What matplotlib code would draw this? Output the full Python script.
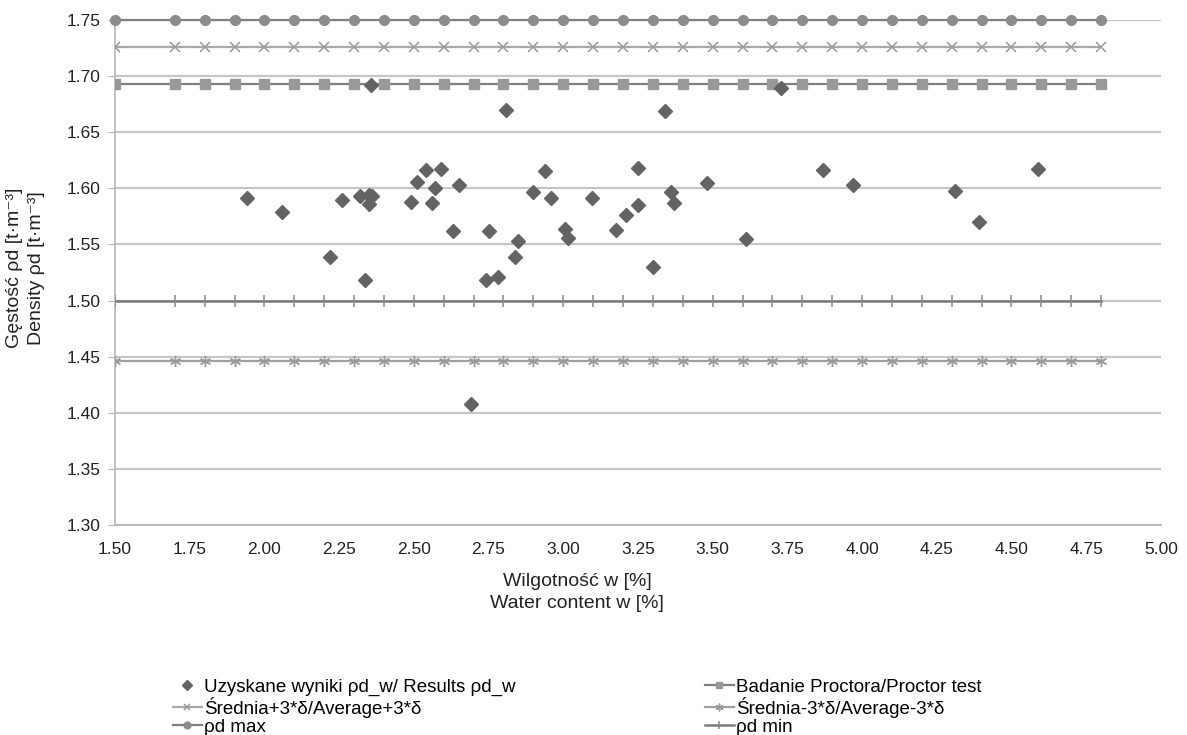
import matplotlib
matplotlib.use("Agg")
import matplotlib.pyplot as plt

plt.rcParams['font.family'] = ['Liberation Sans', 'DejaVu Sans']

# measured points: water content w [%] and dry density [t/m3]
w_results = [1.94, 2.06, 2.22, 2.26, 2.32, 2.335, 2.35, 2.35, 2.36, 2.357,
             2.49, 2.51, 2.54, 2.56, 2.57, 2.59, 2.63, 2.65, 2.69, 2.74,
             2.75, 2.78, 2.81, 2.84, 2.85, 2.90, 2.94, 2.96, 3.005, 3.015,
             3.095, 3.175, 3.21, 3.25, 3.25, 3.30, 3.34, 3.36, 3.37, 3.48,
             3.61, 3.73, 3.87, 3.97, 4.31, 4.39, 4.59]
rho_results = [1.591, 1.579, 1.539, 1.590, 1.593, 1.518, 1.594, 1.586, 1.593, 1.692,
               1.588, 1.606, 1.616, 1.587, 1.600, 1.617, 1.562, 1.603, 1.408, 1.518,
               1.562, 1.521, 1.670, 1.539, 1.553, 1.597, 1.615, 1.591, 1.564, 1.556,
               1.591, 1.563, 1.576, 1.585, 1.618, 1.530, 1.669, 1.597, 1.587, 1.605,
               1.555, 1.689, 1.616, 1.603, 1.598, 1.570, 1.617]

# reference lines
w_lines = [1.5, 1.7, 1.8, 1.9, 2.0, 2.1, 2.2, 2.3, 2.4, 2.5, 2.6, 2.7, 2.8,
           2.9, 3.0, 3.1, 3.2, 3.3, 3.4, 3.5, 3.6, 3.7, 3.8, 3.9, 4.0, 4.1,
           4.2, 4.3, 4.4, 4.5, 4.6, 4.7, 4.8]
rho_max = 1.75
avg_plus = 1.726
proctor = 1.693
rho_min = 1.50
avg_minus = 1.446

TXT = '#222222'

fig = plt.figure(figsize=(11.87, 7.35), dpi=100)
ax = fig.add_axes([0.0969, 0.2857, 0.8811, 0.6871])

n = len(w_lines)
l_max, = ax.plot(w_lines, [rho_max] * n, color='#808080', lw=1.6, marker='o',
                 ms=7, mfc='#8c8c8c', mec='#8c8c8c', clip_on=False, zorder=4,
                 label='ρd max')
l_plus, = ax.plot(w_lines, [avg_plus] * n, color='#a9a9a9', lw=1.6, marker='x',
                  ms=7, mew=1.1, mec='#9a9a9a', zorder=4,
                  label='Średnia+3*δ/Average+3*δ')
l_proc, = ax.plot(w_lines, [proctor] * n, color='#7f7f7f', lw=1.6, marker='s',
                  ms=7, mfc='#999999', mec='#999999', zorder=4,
                  label='Badanie Proctora/Proctor test')
l_min, = ax.plot(w_lines, [rho_min] * n, color='#7a7a7a', lw=1.8, marker='|',
                 ms=9, mew=1.1, mec='#8a8a8a', zorder=4, label='ρd min')
l_minus, = ax.plot(w_lines, [avg_minus] * n, color='#a0a0a0', lw=1.6,
                   marker=(6, 2, 0), ms=8, mew=1.0, mec='#9a9a9a', zorder=4,
                   label='Średnia-3*δ/Average-3*δ')
l_res, = ax.plot(w_results, rho_results, linestyle='none', marker='D', ms=7.5,
                 mfc='#636363', mec='#636363', zorder=5,
                 label='Uzyskane wyniki ρd_w/ Results ρd_w')

ax.set_xlim(1.5, 5.0)
ax.set_ylim(1.30, 1.75)
ax.set_xticks([1.5 + 0.25 * i for i in range(15)])
ax.set_yticks([1.30 + 0.05 * i for i in range(10)])
ax.xaxis.set_major_formatter(matplotlib.ticker.FormatStrFormatter('%.2f'))
ax.yaxis.set_major_formatter(matplotlib.ticker.FormatStrFormatter('%.2f'))
ax.tick_params(axis='x', length=0, pad=12, labelsize=12.5, labelcolor=TXT)
ax.tick_params(axis='y', length=5, color='#b0b0b0', pad=5.5, labelsize=12.5,
               labelcolor=TXT)
ax.grid(axis='y', color='#c6c6c6', lw=1.6)
ax.set_axisbelow(True)
for s in ['top', 'right']:
    ax.spines[s].set_visible(False)
ax.spines['left'].set_color('#bdbdbd')
ax.spines['left'].set_linewidth(1.3)
ax.spines['bottom'].set_color('#b5b5b5')
ax.spines['bottom'].set_linewidth(1.3)

# axis titles
fig.text(15 / 1187, 1 - 268 / 735, 'Gęstość ρd [t·m⁻³]', rotation=90,
         ha='center', va='center', fontsize=14, color=TXT)
fig.text(37 / 1187, 1 - 268 / 735, 'Density ρd [t·m⁻³]', rotation=90,
         ha='center', va='center', fontsize=14, color=TXT)
fig.text(577 / 1187, 1 - 581 / 735, 'Wilgotność w [%]', ha='center',
         va='center', fontsize=14, color=TXT)
fig.text(577 / 1187, 1 - 603 / 735, 'Water content w [%]', ha='center',
         va='center', fontsize=14, color=TXT)

leg_kw = dict(frameon=False, fontsize=13.5, handlelength=1.5, markerscale=0.7,
              handletextpad=0.15, labelspacing=0.05, borderpad=0,
              loc='center left')
fig.legend(handles=[l_res, l_plus, l_max],
           bbox_to_anchor=(164 / 1187, 1 - 707 / 735), **leg_kw)
fig.legend(handles=[l_proc, l_minus, l_min],
           bbox_to_anchor=(696 / 1187, 1 - 707 / 735), **leg_kw)

fig.savefig('out.png', dpi=100)
